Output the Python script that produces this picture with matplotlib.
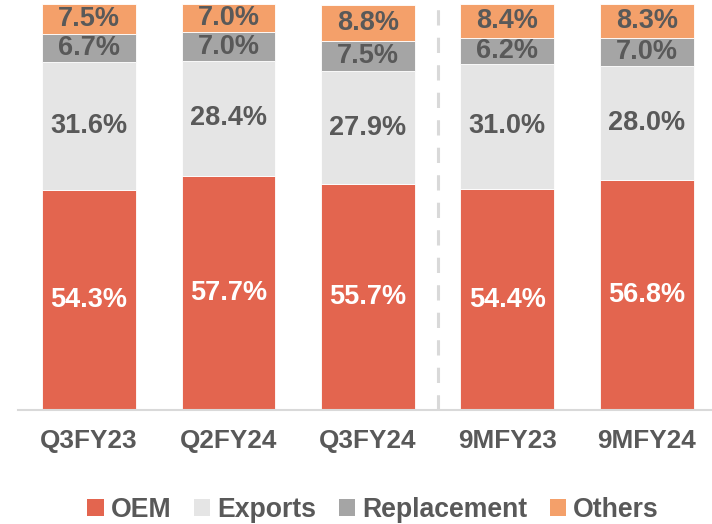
import matplotlib
matplotlib.use("Agg")
import matplotlib.pyplot as plt
from matplotlib.patches import Patch

# ---------------------------------------------------------------------------
# Data
# ---------------------------------------------------------------------------
periods = ["Q3FY23", "Q2FY24", "Q3FY24", "9MFY23", "9MFY24"]
oem = [54.3, 57.7, 55.7, 54.4, 56.8]
exports = [31.6, 28.4, 27.9, 31.0, 28.0]
replacement = [6.7, 7.0, 7.5, 6.2, 7.0]
others = [7.5, 7.0, 8.8, 8.4, 8.3]
series_names = ["OEM", "Exports", "Replacement", "Others"]

COLORS = ["#E3654F", "#E5E5E5", "#A5A5A5", "#F4A06A"]
TEXT_DARK = "#595959"

plt.rcParams["font.family"] = ["Liberation Sans", "DejaVu Sans"]
plt.rcParams["font.weight"] = "bold"

fig = plt.figure(figsize=(7.12, 5.24), dpi=100)
ax = fig.add_axes([0.0253, 0.2176, 0.975, 0.7786])

x = list(range(len(periods)))
width = 0.674
bottoms = [0.0] * len(periods)
for vals, name, color in zip([oem, exports, replacement, others], series_names, COLORS):
    ax.bar(x, vals, width, bottom=bottoms, color=color, label=name,
           edgecolor="white", linewidth=0.6, clip_on=False, zorder=2)
    txt_color = "white" if name == "OEM" else TEXT_DARK
    for xi, b, v in zip(x, bottoms, vals):
        ax.text(xi, b + v / 2, f"{v:.1f}%", ha="center", va="center",
                fontsize=19.5, fontweight="bold", color=txt_color, zorder=3)
    bottoms = [b + v for b, v in zip(bottoms, vals)]

# dashed separator between quarterly and nine-month figures
ax.axvline(2.5, ymin=0, ymax=1.01, color="#D9D9D9", lw=2.2,
           ls=(0, (5, 4)), zorder=1, clip_on=False)

ax.set_xlim(-0.51, 4.47)
ax.set_ylim(0, 100.6)
ax.set_xticks(x)
ax.set_xticklabels(periods, fontsize=18.8, fontweight="bold", color=TEXT_DARK)
ax.tick_params(axis="x", length=0, pad=14)
ax.set_yticks([])
for side in ["top", "right", "left"]:
    ax.spines[side].set_visible(False)
ax.spines["bottom"].set_color("#D9D9D9")
ax.spines["bottom"].set_linewidth(1.5)

handles = [Patch(facecolor=c, edgecolor="none") for c in COLORS]
leg = fig.legend(handles, series_names, loc="lower center", ncol=4,
                 bbox_to_anchor=(0.524, -0.044), frameon=False,
                 handlelength=0.62, handleheight=0.62, handletextpad=0.25,
                 columnspacing=0.85,
                 prop={"size": 19.2, "weight": "bold"})
for t in leg.get_texts():
    t.set_color(TEXT_DARK)

fig.savefig("out.png", dpi=100)
